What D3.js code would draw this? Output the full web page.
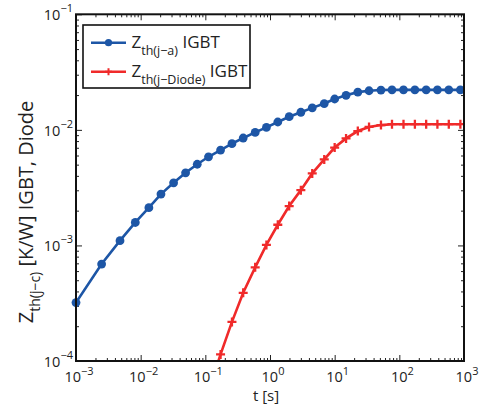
<!DOCTYPE html>
<html>
<head>
<meta charset="utf-8">
<script src="https://cdn.jsdelivr.net/npm/d3@7"></script>
<style>
  body { margin: 0; background: #fff; }
  svg text { font-family: "Open Sans", "DejaVu Sans", sans-serif; fill: #222; }
</style>
</head>
<body>
<div id="chart"></div>
<script>
// time points [s]
const tValues = [0.001, 0.00249, 0.00479, 0.00826, 0.0134, 0.0206, 0.0323, 0.0495, 0.075, 0.112,
  0.172, 0.258, 0.385, 0.59, 0.88, 1.32, 1.98, 3.0, 4.5, 6.9,
  10, 15, 22.8, 34, 52, 77, 116, 174, 260, 388, 582, 879];

// Zth(j-a) IGBT
const zthIgbt = [3.2e-4, 6.9e-4, 1.1e-3, 1.58e-3, 2.12e-3, 2.78e-3, 3.48e-3, 4.25e-3, 5.04e-3, 5.85e-3,
  6.68e-3, 7.59e-3, 8.5e-3, 9.5e-3, 1.05e-2, 1.17e-2, 1.30e-2, 1.42e-2, 1.55e-2, 1.69e-2,
  1.85e-2, 1.99e-2, 2.12e-2, 2.18e-2, 2.21e-2, 2.22e-2, 2.22e-2, 2.22e-2, 2.22e-2, 2.22e-2, 2.22e-2, 2.22e-2];

// Zth(j-Diode), starts at tValues[9]
const zthDiode = [5.5e-5, 1.14e-4, 2.18e-4, 3.89e-4, 6.46e-4, 1.01e-3, 1.51e-3, 2.19e-3, 3.01e-3, 4.2e-3,
  5.55e-3, 7.03e-3, 8.44e-3, 9.77e-3, 1.06e-2, 1.10e-2, 1.12e-2, 1.12e-2, 1.12e-2, 1.12e-2, 1.12e-2, 1.12e-2, 1.12e-2];

const xTickExp = [-3, -2, -1, 0, 1, 2, 3];
const yTickExp = [-4, -3, -2, -1];

const W = 484, H = 412;
const margin = { top: 14.3, right: 20, bottom: 51, left: 76 };
const width = W - margin.left - margin.right;
const height = H - margin.top - margin.bottom;

const blue = "#1d56a6";
const red = "#f02a2a";

const svg = d3.select("#chart").append("svg")
  .attr("width", W)
  .attr("height", H);

const g = svg.append("g")
  .attr("transform", `translate(${margin.left},${margin.top})`);

const x = d3.scaleLog().domain([1e-3, 1e3]).range([0, width]);
const y = d3.scaleLog().domain([1e-4, 1e-1]).range([height, 0]);

// minor ticks 2..9 per decade
const minorX = [], minorY = [];
for (let e = -3; e < 3; e++) for (let k = 2; k < 10; k++) minorX.push(k * Math.pow(10, e));
for (let e = -4; e < -1; e++) for (let k = 2; k < 10; k++) minorY.push(k * Math.pow(10, e));

function addTicks(axisFn, scale, values, size, transform) {
  const a = g.append("g")
    .attr("transform", transform)
    .call(axisFn(scale).tickValues(values).tickSize(size).tickFormat(""));
  a.select(".domain").remove();
  a.selectAll("line").attr("stroke", "#222");
}
const majX = xTickExp.map(e => Math.pow(10, e));
const majY = yTickExp.map(e => Math.pow(10, e));
addTicks(d3.axisBottom, x, majX, -6, `translate(0,${height})`);
addTicks(d3.axisBottom, x, minorX, -3, `translate(0,${height})`);
addTicks(d3.axisTop, x, majX, -6, "translate(0,0)");
addTicks(d3.axisTop, x, minorX, -3, "translate(0,0)");
addTicks(d3.axisLeft, y, majY, -6, "translate(0,0)");
addTicks(d3.axisLeft, y, minorY, -3, "translate(0,0)");
addTicks(d3.axisRight, y, majY, -6, `translate(${width},0)`);
addTicks(d3.axisRight, y, minorY, -3, `translate(${width},0)`);

// tick labels
xTickExp.forEach(e => {
  const t = g.append("text")
    .attr("x", x(Math.pow(10, e)) + 3)
    .attr("y", height + 21)
    .attr("text-anchor", "middle")
    .attr("font-size", 14.5);
  t.append("tspan").text("10");
  t.append("tspan").attr("dy", -7).attr("font-size", 11).text(e < 0 ? "\u2212" + (-e) : e);
});
yTickExp.forEach(e => {
  const t = g.append("text")
    .attr("x", -3)
    .attr("y", y(Math.pow(10, e)) + 6)
    .attr("text-anchor", "end")
    .attr("font-size", 14.5);
  t.append("tspan").text("10");
  t.append("tspan").attr("dy", -8).attr("font-size", 11).text("\u2212" + (-e));
});

// axis titles
g.append("text")
  .attr("x", 190)
  .attr("y", height + 40.5)
  .attr("text-anchor", "middle")
  .attr("font-size", 15)
  .text("t [s]");

const yl = svg.append("text")
  .attr("transform", "translate(33,212) rotate(-90)")
  .attr("text-anchor", "middle")
  .attr("font-size", 20);
yl.append("tspan").text("Z");
yl.append("tspan").attr("dy", 7).attr("font-size", 14).text("th(j\u2212c)");
yl.append("tspan").attr("dy", -7).text(" [K/W] IGBT, Diode");

// data lines
g.append("clipPath").attr("id", "clip")
  .append("rect").attr("width", width).attr("height", height);

const igbt = tValues.map((t, i) => ({ t, z: zthIgbt[i] }));
const diode = zthDiode.map((z, i) => ({ t: tValues[i + 9], z }));

const line = d3.line().x(d => x(d.t)).y(d => y(d.z));

g.append("path")
  .datum(igbt)
  .attr("clip-path", "url(#clip)")
  .attr("fill", "none")
  .attr("stroke", blue)
  .attr("stroke-width", 2.6)
  .attr("d", line);

g.append("path")
  .datum(diode)
  .attr("clip-path", "url(#clip)")
  .attr("fill", "none")
  .attr("stroke", red)
  .attr("stroke-width", 2.6)
  .attr("d", line);

g.selectAll(".dot")
  .data(igbt)
  .enter().append("circle")
  .attr("class", "dot")
  .attr("cx", d => x(d.t))
  .attr("cy", d => y(d.z))
  .attr("r", 4.4)
  .attr("fill", blue);

g.selectAll(".plus")
  .data(diode.filter(d => d.z >= 1e-4))
  .enter().append("path")
  .attr("class", "plus")
  .attr("transform", d => `translate(${x(d.t)},${y(d.z)})`)
  .attr("d", d3.line()([[-4.5, 0], [4.5, 0], [0, 0], [0, -4.5], [0, 4.5]]))
  .attr("fill", "none")
  .attr("stroke", red)
  .attr("stroke-width", 2.3);

// frame
g.append("rect")
  .attr("width", width)
  .attr("height", height)
  .attr("fill", "none")
  .attr("stroke", "#111")
  .attr("stroke-width", 2);

// legend
const lg = svg.append("g").attr("transform", "translate(83,25)");
lg.append("rect")
  .attr("width", 167)
  .attr("height", 63)
  .attr("fill", "#fff")
  .attr("stroke", "#111")
  .attr("stroke-width", 1.6);

const legendItems = [
  { color: blue, sub: "th(j\u2212a)", marker: "dot" },
  { color: red, sub: "th(j\u2212Diode)", marker: "plus" }
];
legendItems.forEach((d, i) => {
  const yy = 17.7 + i * 29;
  lg.append("line")
    .attr("x1", 8).attr("x2", 43).attr("y1", yy).attr("y2", yy)
    .attr("stroke", d.color).attr("stroke-width", 2.6);
  if (d.marker === "dot") {
    lg.append("circle").attr("cx", 25.5).attr("cy", yy).attr("r", 3.6).attr("fill", d.color);
  } else {
    lg.append("path")
      .attr("transform", `translate(25.5,${yy})`)
      .attr("d", d3.line()([[-3.5, 0], [3.5, 0], [0, 0], [0, -3.5], [0, 3.5]]))
      .attr("stroke", d.color).attr("stroke-width", 2).attr("fill", "none");
  }
  const t = lg.append("text")
    .attr("x", 48.5)
    .attr("y", yy + 5.5)
    .attr("font-size", 17);
  t.append("tspan").text("Z");
  t.append("tspan").attr("dy", 6.5).attr("font-size", 12.5).text(d.sub);
  t.append("tspan").attr("dy", -6.5).text(" IGBT");
});
</script>
</body>
</html>
